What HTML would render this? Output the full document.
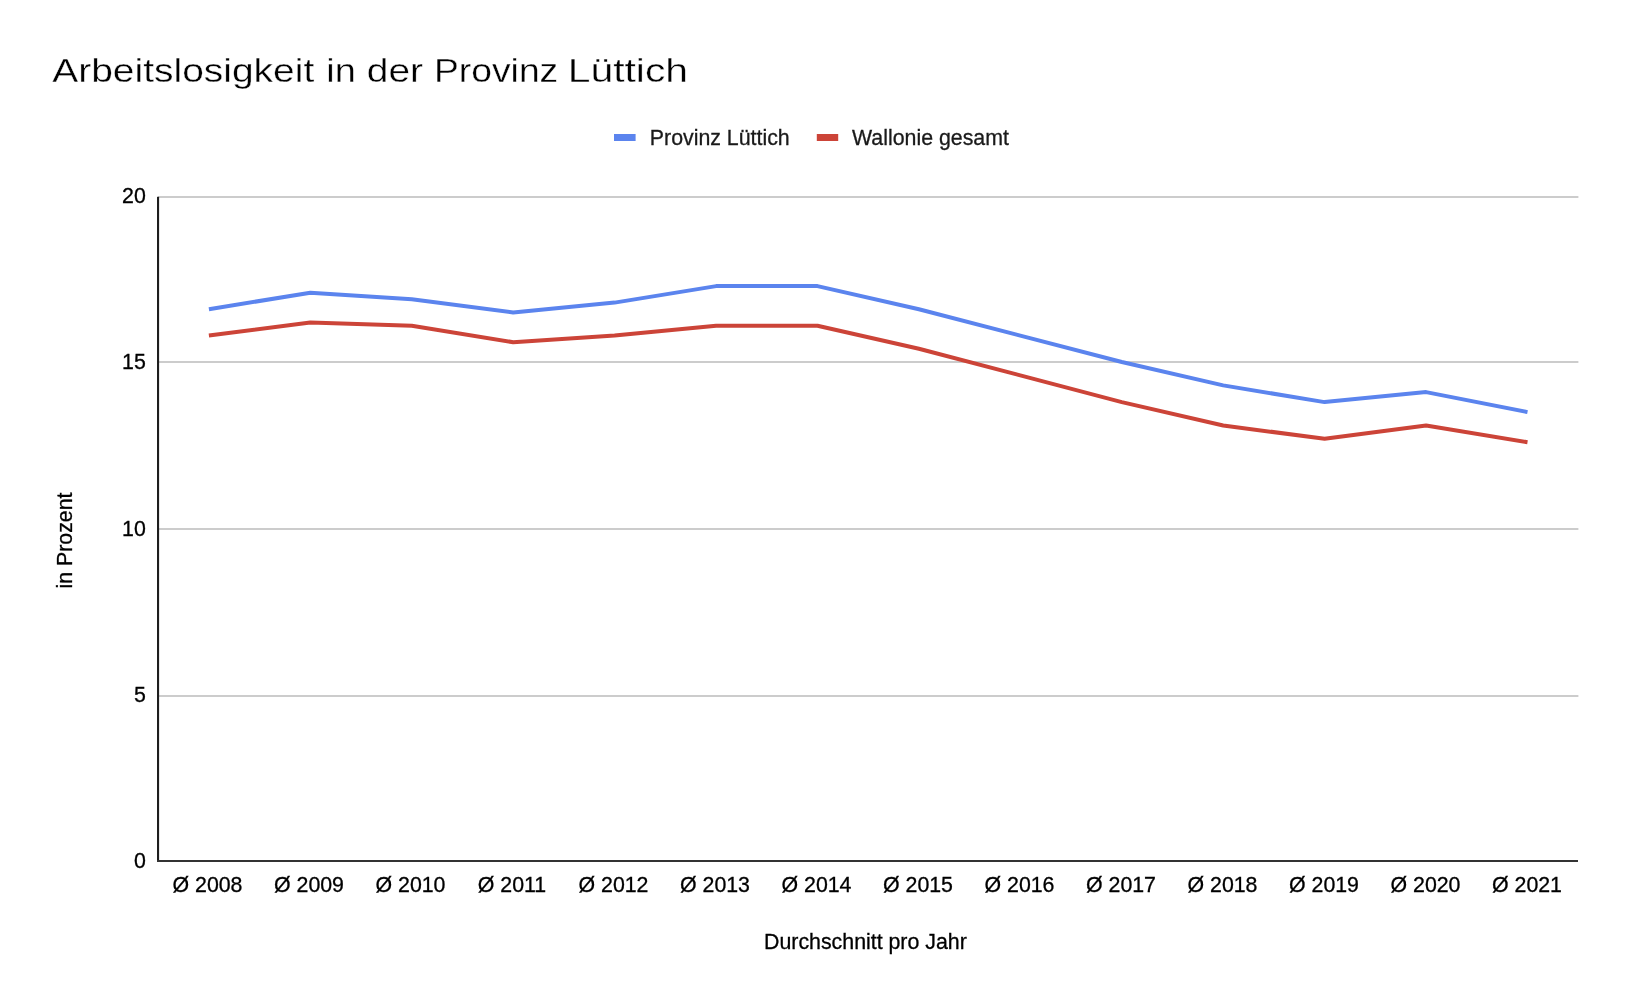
<!DOCTYPE html>
<html lang="de">
<head>
<meta charset="utf-8">
<title>Arbeitslosigkeit in der Provinz Lüttich</title>
<style>
html,body{margin:0;padding:0;background:#fff;}
body{width:1630px;height:1004px;overflow:hidden;}
svg{display:block;will-change:transform;}
text{font-family:"Liberation Sans",sans-serif;}
.ax{font-size:21.33px;fill:#000;stroke:#000;stroke-width:0.3px;}
.lg{font-size:21.33px;fill:#1a1a1a;stroke:#1a1a1a;stroke-width:0.3px;}
.ttl{font-size:34px;fill:#000;stroke:#fff;stroke-width:0.35px;}
</style>
</head>
<body>
<svg width="1630" height="1004" viewBox="0 0 1630 1004">
<rect x="0" y="0" width="1630" height="1004" fill="#ffffff"/>
<text class="ttl" y="82.3"><tspan x="52.25" textLength="262.0" lengthAdjust="spacingAndGlyphs">Arbeitslosigkeit</tspan> <tspan x="326.25" textLength="29.5" lengthAdjust="spacingAndGlyphs">in</tspan> <tspan x="366.75" textLength="56.25" lengthAdjust="spacingAndGlyphs">der</tspan> <tspan x="434.0" textLength="124.25" lengthAdjust="spacingAndGlyphs">Provinz</tspan> <tspan x="567.75" textLength="120.25" lengthAdjust="spacingAndGlyphs">Lüttich</tspan></text>
<rect x="614" y="134" width="21.6" height="7" fill="#5b84ee"/>
<text class="lg" x="649.8" y="145.0">Provinz Lüttich</text>
<rect x="816.8" y="134" width="21.4" height="7" fill="#cc4438"/>
<text class="lg" x="852" y="145.0">Wallonie gesamt</text>
<rect x="158" y="196" width="1420.4" height="2" fill="#cccccc"/>
<rect x="158" y="361" width="1420.4" height="2" fill="#cccccc"/>
<rect x="158" y="528" width="1420.4" height="2" fill="#cccccc"/>
<rect x="158" y="695" width="1420.4" height="2" fill="#cccccc"/>
<polyline fill="none" stroke="#5b84ee" stroke-width="4" stroke-linejoin="round" points="208.9,309.2 310.3,292.7 411.8,299.3 513.2,312.5 614.6,302.6 716.1,286.1 817.5,286.1 918.9,309.2 1020.3,335.6 1121.8,362.0 1223.2,385.4 1324.6,402.1 1426.1,392.1 1527.5,412.1"/>
<polyline fill="none" stroke="#cc4438" stroke-width="4" stroke-linejoin="round" points="208.9,335.6 310.3,322.4 411.8,325.7 513.2,342.2 614.6,335.6 716.1,325.7 817.5,325.7 918.9,348.8 1020.3,375.4 1121.8,402.1 1223.2,425.5 1324.6,438.8 1426.1,425.5 1527.5,442.2"/>
<rect x="157" y="196.8" width="2.1" height="665.2" fill="#1e1e1e"/>
<rect x="157" y="860" width="1421" height="2" fill="#333333"/>
<text class="ax" x="145.8" y="202.7" text-anchor="end">20</text>
<text class="ax" x="145.8" y="369.3" text-anchor="end">15</text>
<text class="ax" x="145.8" y="535.7" text-anchor="end">10</text>
<text class="ax" x="145.8" y="702.2" text-anchor="end">5</text>
<text class="ax" x="145.8" y="868.4" text-anchor="end">0</text>
<text class="ax" x="207.5" y="891.6" text-anchor="middle">Ø 2008</text>
<text class="ax" x="309.0" y="891.6" text-anchor="middle">Ø 2009</text>
<text class="ax" x="410.5" y="891.6" text-anchor="middle">Ø 2010</text>
<text class="ax" x="512.0" y="891.6" text-anchor="middle">Ø 2011</text>
<text class="ax" x="613.5" y="891.6" text-anchor="middle">Ø 2012</text>
<text class="ax" x="715.0" y="891.6" text-anchor="middle">Ø 2013</text>
<text class="ax" x="816.5" y="891.6" text-anchor="middle">Ø 2014</text>
<text class="ax" x="918.0" y="891.6" text-anchor="middle">Ø 2015</text>
<text class="ax" x="1019.5" y="891.6" text-anchor="middle">Ø 2016</text>
<text class="ax" x="1121.0" y="891.6" text-anchor="middle">Ø 2017</text>
<text class="ax" x="1222.5" y="891.6" text-anchor="middle">Ø 2018</text>
<text class="ax" x="1324.0" y="891.6" text-anchor="middle">Ø 2019</text>
<text class="ax" x="1425.5" y="891.6" text-anchor="middle">Ø 2020</text>
<text class="ax" x="1527.0" y="891.6" text-anchor="middle">Ø 2021</text>
<text class="ax" x="865.4" y="948.7" text-anchor="middle">Durchschnitt pro Jahr</text>
<text class="ax" transform="translate(72.4,540.5) rotate(-90)" text-anchor="middle">in Prozent</text>
</svg>
</body>
</html>
